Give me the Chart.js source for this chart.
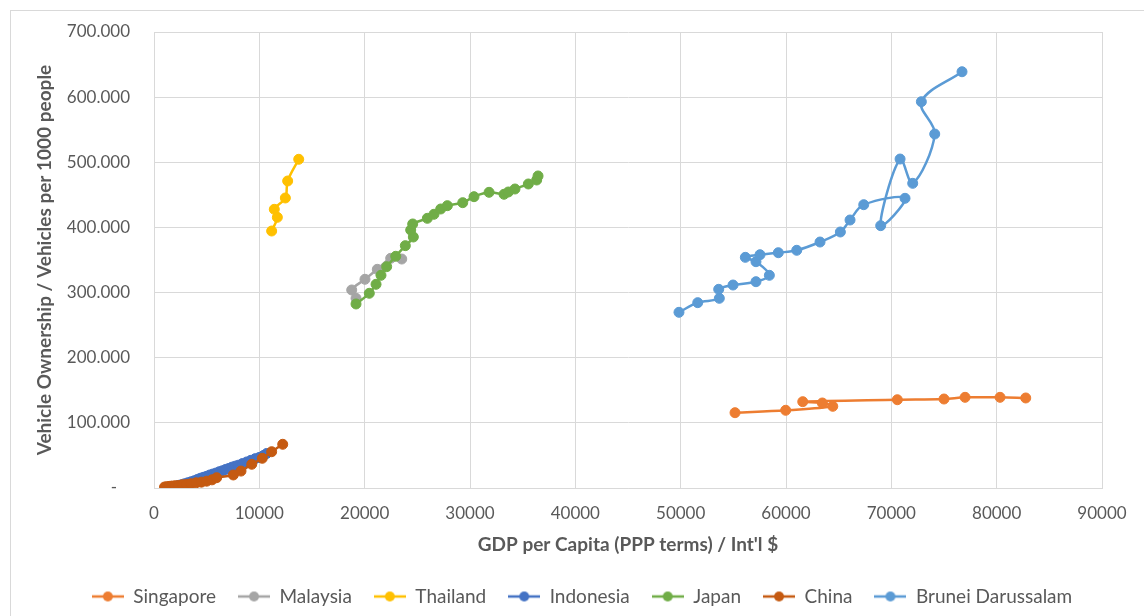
<!DOCTYPE html>
<html>
<head>
<meta charset="utf-8">
<script src="https://cdn.jsdelivr.net/npm/chart.js@4/dist/chart.umd.min.js"></script>
<style>
  html, body { margin: 0; padding: 0; background: #ffffff; }
  body { width: 1144px; height: 616px; overflow: hidden; position: relative; }
  #frame { position: absolute; left: 10px; top: 10px; width: 1160px; height: 640px; border: 1px solid #d9d9d9; box-sizing: border-box; }
  #wrap { position: absolute; left: 10px; top: 10px; width: 1144px; height: 606px; }
</style>
</head>
<body>
<div id="frame"></div>
<div id="wrap"><canvas id="chart"></canvas></div>
<script>
// GDP per capita (PPP, Int'l $) and vehicles per 1000 people, by country
const singaporeGdp = [55160, 59970, 64440, 63450, 61590, 70570, 75000, 77000, 80320, 82760];
const singaporeVeh = [115.6, 119.3, 125.4, 130.5, 132.5, 135.5, 136.6, 139.2, 139.2, 138.2];

const malaysiaGdp = [19180, 18770, 20030, 21200, 22470, 23520];
const malaysiaVeh = [291.2, 304.0, 320.4, 335.7, 352.6, 351.5];

const thailandGdp = [11170, 11710, 11420, 12470, 12690, 13740];
const thailandVeh = [394.5, 415.5, 427.8, 445.2, 471.3, 504.6];

const indonesiaGdp = [2300, 2600, 2900, 3200, 3500, 3800, 4100, 4400, 4700, 5000, 5300, 5600, 5900, 6200,
                      6500, 6800, 7100, 7400, 7700, 8000, 8400, 8800, 9200, 9600, 10000, 10400, 10700];
const indonesiaVeh = [4, 5, 6.5, 8, 9.5, 11, 13, 15, 16.5, 18, 20, 21.5, 23, 25,
                      26.5, 28.5, 30, 32, 33.5, 35, 37.5, 40, 42.5, 45, 47, 50, 53];

const japanGdp = [19180, 20440, 21080, 21550, 22090, 22950, 23860, 24620, 24370, 24560, 25950, 26580,
                  27220, 27850, 29310, 30380, 31810, 33230, 33640, 34270, 35540, 36330, 36460];
const japanVeh = [282.5, 298.9, 312.7, 326.5, 339.7, 355.7, 372.0, 385.3, 396.0, 405.3, 414.0, 420.2,
                  428.3, 433.4, 438.0, 447.2, 453.9, 450.9, 454.4, 459.0, 466.7, 472.8, 479.0];

const chinaGdp = [1000, 1200, 1450, 1700, 2000, 2350, 2700, 3100, 3500, 4000, 4500, 5000, 5500, 5950,
                  7530, 8260, 9280, 10280, 11170, 12220];
const chinaVeh = [1.5, 2, 2.5, 3, 3.5, 4, 5, 5.5, 6.5, 8, 9, 10.5, 12.5, 15.8,
                  20, 26, 36.4, 45.6, 55.7, 67.1];

const bruneiGdp = [49840, 51620, 53670, 53610, 54970, 57150, 58420, 57150, 56140, 57530, 59270, 61020,
                   63230, 65160, 66080, 67380, 71300, 68990, 70830, 72030, 74120, 72850, 76710];
const bruneiVeh = [269.7, 284.5, 291.2, 305.0, 311.6, 316.7, 326.5, 347.4, 354.1, 358.1, 361.2, 364.9,
                   377.6, 393.0, 411.4, 434.9, 444.7, 402.7, 505.0, 467.7, 543.4, 593.0, 639.0];

const seriesNames = ['Singapore', 'Malaysia', 'Thailand', 'Indonesia', 'Japan', 'China', 'Brunei Darussalam'];
const seriesColors = ['#ED7D31', '#A5A5A5', '#FFC000', '#4472C4', '#70AD47', '#C55A11', '#5B9BD5'];
const seriesGdp = [singaporeGdp, malaysiaGdp, thailandGdp, indonesiaGdp, japanGdp, chinaGdp, bruneiGdp];
const seriesVeh = [singaporeVeh, malaysiaVeh, thailandVeh, indonesiaVeh, japanVeh, chinaVeh, bruneiVeh];

const xTicks = [0, 10000, 20000, 30000, 40000, 50000, 60000, 70000, 80000, 90000];
const yTicks = [0, 100, 200, 300, 400, 500, 600, 700];

const TEXT = '#595959';
const GRID = '#d9d9d9';
const FONT = 'Lato, "Open Sans", sans-serif';

// Legend glyph: short line segment with a marker in the middle
function legendIcon(color) {
  const c = document.createElement('canvas');
  c.width = 32; c.height = 12;
  const g = c.getContext('2d');
  g.strokeStyle = color; g.lineWidth = 2.5;
  g.beginPath(); g.moveTo(0, 6); g.lineTo(32, 6); g.stroke();
  g.fillStyle = color;
  g.beginPath(); g.arc(16, 6, 5, 0, Math.PI * 2); g.fill();
  return c;
}
const icons = seriesColors.map(legendIcon);

const datasets = seriesNames.map((name, i) => ({
  label: name,
  data: seriesGdp[i].map((x, k) => ({ x: x, y: seriesVeh[i][k] })),
  showLine: true,
  borderColor: seriesColors[i],
  backgroundColor: seriesColors[i],
  borderWidth: 2.5,
  tension: 0.35,
  pointRadius: 5,
  pointHoverRadius: 5,
  pointBorderWidth: 1,
  pointBackgroundColor: seriesColors[i],
  pointBorderColor: seriesColors[i],
  order: seriesNames.length - i
}));

new Chart(document.getElementById('chart'), {
  type: 'scatter',
  data: { datasets: datasets },
  options: {
    responsive: true,
    maintainAspectRatio: false,
    animation: false,
    events: [],
    layout: { padding: { left: 0, right: 0, top: 22, bottom: 0 } },
    plugins: {
      tooltip: { enabled: false },
      legend: {
        position: 'bottom',
        labels: {
          usePointStyle: true,
          pointStyleWidth: 32,
          padding: 22,
          color: TEXT,
          font: { family: FONT, size: 19 },
          sort: (a, b) => a.datasetIndex - b.datasetIndex,
          generateLabels: (chart) => {
            const items = Chart.defaults.plugins.legend.labels.generateLabels(chart);
            items.forEach(it => { it.pointStyle = icons[it.datasetIndex]; });
            return items;
          }
        }
      }
    },
    scales: {
      x: {
        type: 'linear',
        min: 0, max: 90000,
        afterBuildTicks: (s) => { s.ticks = xTicks.map(v => ({ value: v })); },
        afterFit: (s) => { s.height = 77; },
        grid: { color: GRID, lineWidth: 1, drawTicks: false },
        border: { color: GRID },
        ticks: { color: TEXT, padding: 15, font: { family: FONT, size: 17 }, maxRotation: 0, callback: (v) => String(v) },
        title: { display: true, text: "GDP per Capita (PPP terms) / Int'l $", color: TEXT,
                 font: { family: FONT, size: 19, weight: 'bold' }, padding: { top: 0, bottom: 9 } }
      },
      y: {
        type: 'linear',
        min: 0, max: 700,
        afterBuildTicks: (s) => { s.ticks = yTicks.map(v => ({ value: v })); },
        afterFit: (s) => { s.width = 144; },
        grid: { color: GRID, lineWidth: 1, drawTicks: true, tickLength: 21, tickColor: 'rgba(0,0,0,0)' },
        border: { color: GRID },
        ticks: { color: TEXT, padding: 3, font: { family: FONT, size: 17 },
                 callback: (v) => v === 0 ? '-   ' : v.toFixed(3) },
        title: { display: true, text: 'Vehicle Ownership / Vehicles per 1000 people', color: TEXT,
                 font: { family: FONT, size: 19, weight: 'bold' }, padding: { top: 23, bottom: 0 } }
      },
      // empty right-hand gutter so the legend centres on the full chart width
      gutter: {
        type: 'linear',
        position: 'right',
        display: true,
        afterFit: (s) => { s.width = 52; },
        grid: { display: false, drawTicks: false },
        border: { display: false },
        ticks: { display: false },
        title: { display: false }
      }
    }
  }
});
</script>
</body>
</html>
